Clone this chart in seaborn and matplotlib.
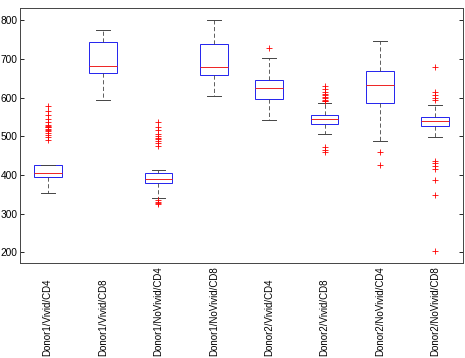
import numpy as np
import pandas as pd
import matplotlib
matplotlib.use("Agg")
import matplotlib.pyplot as plt
import seaborn as sns

# Sample values per group (sorted, low to high)
groups = ["Donor1/Vivid/CD4", "Donor1/Vivid/CD8", "Donor1/NoVivid/CD4", "Donor1/NoVivid/CD8",
          "Donor2/Vivid/CD4", "Donor2/Vivid/CD8", "Donor2/NoVivid/CD4", "Donor2/NoVivid/CD8"]

d1_vivid_cd4 = [353, 362, 368, 373, 377, 380, 383, 385, 387, 388, 389, 390, 391, 392, 393, 393,
                394,
                395, 395, 396, 396, 397, 397, 398, 398, 399, 400, 400, 401, 402, 402, 403,
                404,
                405, 406, 407, 408, 409, 410, 411, 412, 414, 415, 417, 419, 421, 423, 425,
                426,
                490, 497, 503, 508, 513, 517, 520, 523, 525, 527, 530, 536, 545, 555, 566, 578]
d1_vivid_cd8 = [595, 628, 648, 664, 670, 676, 682, 698, 722, 744, 752, 763, 774]
d1_novivid_cd4 = [324, 327, 330, 334, 341, 352, 360, 366, 371, 375, 377,
                  379,
                  380, 381, 382, 383, 384, 385, 386, 387, 388, 389,
                  390,
                  391, 392, 393, 394, 396, 397, 399, 400, 402, 404,
                  405,
                  413, 476, 482, 488, 492, 496, 500, 505, 515, 525, 537]
d1_novivid_cd8 = [605, 630, 648, 659, 665, 672, 680, 700, 722, 740, 760, 782, 800]
d2_vivid_cd4 = [541, 570, 585, 596, 605, 615, 625, 632, 640, 646, 668, 703, 728]
d2_vivid_cd8 = [460, 465, 472, 506, 514, 519, 523, 526, 528, 530, 531,
                532,
                533, 534, 535, 536, 538, 539, 540, 541, 543, 544,
                545,
                546, 546, 547, 548, 549, 550, 551, 552, 553, 553,
                554,
                585, 590, 592, 595, 598, 602, 606, 610, 615, 622, 630]
d2_novivid_cd4 = [426, 458, 488, 587, 600, 615, 632, 645, 658, 669, 690, 715, 746]
d2_novivid_cd8 = [202, 348, 386, 416, 423, 430, 437, 498,
                  526,
                  528, 530, 532, 534, 535, 536, 538,
                  539,
                  540, 542, 543, 545, 547, 548, 550,
                  551,
                  560, 572, 582, 594, 600, 607, 614, 679]

y_ticks = [200, 300, 400, 500, 600, 700, 800]

series = [d1_vivid_cd4, d1_vivid_cd8, d1_novivid_cd4, d1_novivid_cd8,
          d2_vivid_cd4, d2_vivid_cd8, d2_novivid_cd4, d2_novivid_cd8]
df = pd.DataFrame({
    "group": np.concatenate([[g] * len(v) for g, v in zip(groups, series)]),
    "value": np.concatenate(series),
})

plt.rcParams['font.family'] = ['Liberation Sans', 'DejaVu Sans']

fig = plt.figure(figsize=(4.65, 3.58), dpi=100)
ax = fig.add_axes([0.043, 0.2654, 0.9527, 0.7123])

sns.boxplot(data=df, x="group", y="value", order=groups, ax=ax, width=0.5,
            color="white", linewidth=0.7, capwidths=0.25,
            boxprops=dict(edgecolor="#2222ee", linewidth=0.7),
            medianprops=dict(color="#ee2222", linewidth=0.7),
            whiskerprops=dict(color="#444444", linewidth=0.6, linestyle=(0, (5, 3))),
            capprops=dict(color="#444444", linewidth=0.7),
            flierprops=dict(marker="+", markeredgecolor="red", markersize=5,
                            markeredgewidth=0.6))

ax.set_ylim(172, 832)
ax.set_yticks(y_ticks)
ax.set_yticklabels([str(t) for t in y_ticks], fontsize=7.3)
ax.set_xticks(range(len(groups)))
ax.set_xticklabels(groups, rotation=90, va="bottom", fontsize=7.0)
ax.tick_params(axis="x", length=0, pad=67)
ax.tick_params(axis="y", direction="in", length=3, width=0.6, right=True, pad=2)
ax.set_xlabel("")
ax.set_ylabel("")
for s in ax.spines.values():
    s.set_linewidth(0.7)
    s.set_color("#444444")

fig.savefig("out.png", dpi=100)
